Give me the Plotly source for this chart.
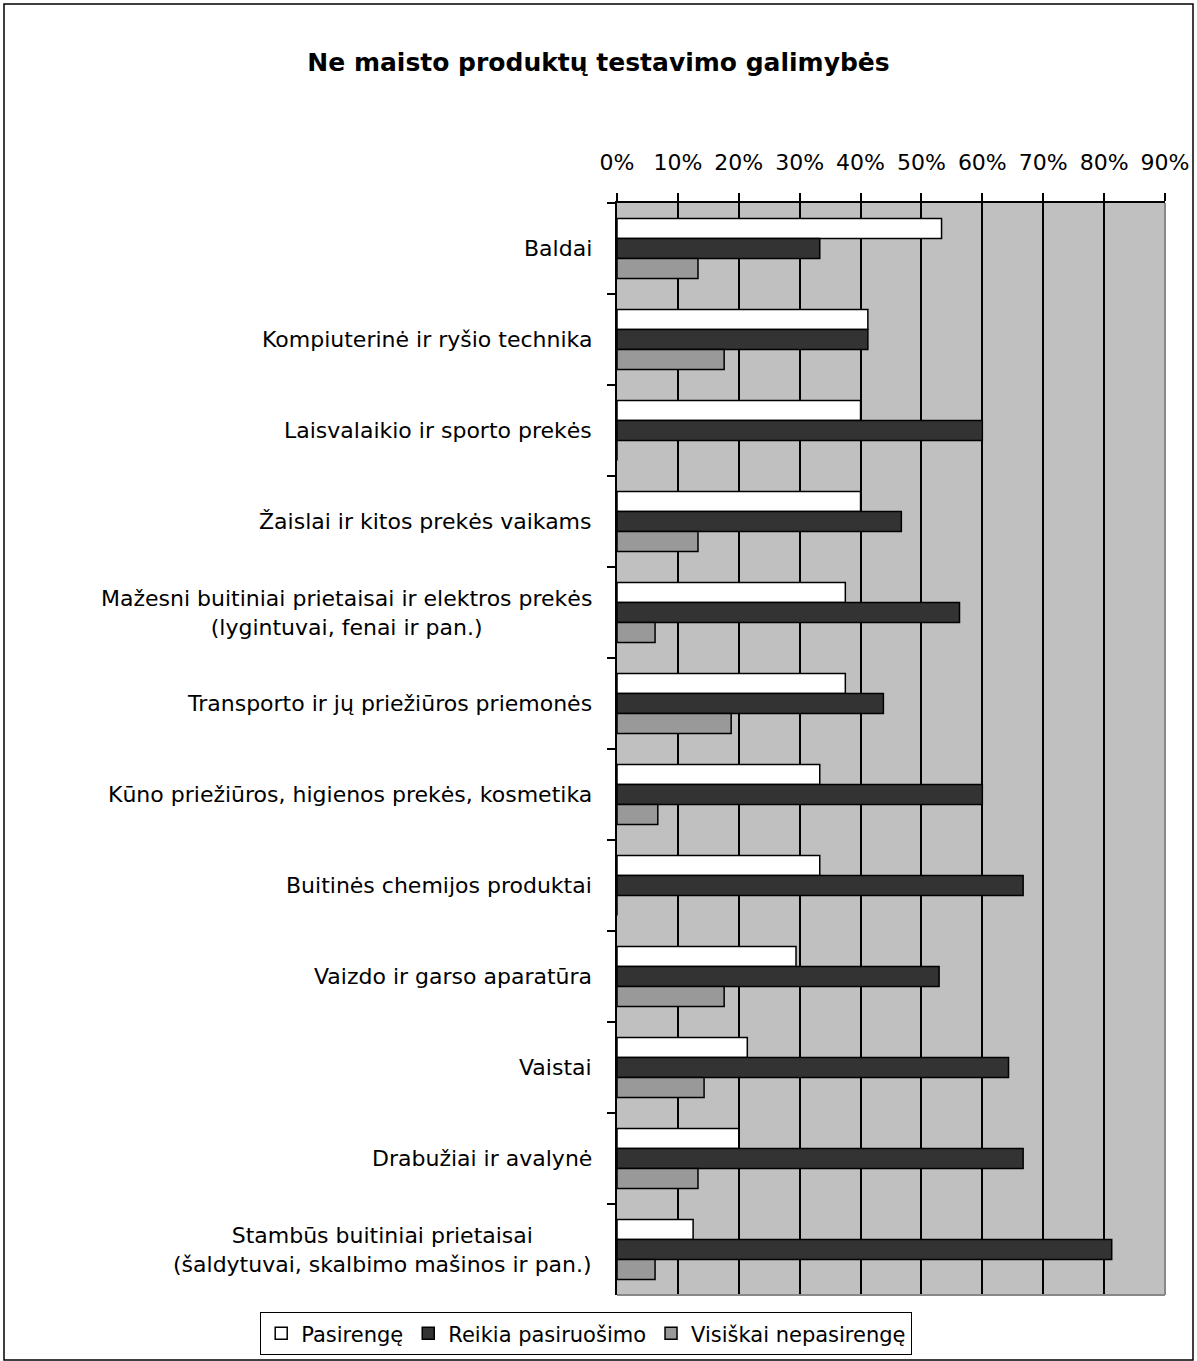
import plotly.graph_objects as go

categories = [
    "Baldai",
    "Kompiuterinė ir ryšio technika",
    "Laisvalaikio ir sporto prekės",
    "Žaislai ir kitos prekės vaikams",
    "Mažesni buitiniai prietaisai ir elektros prekės<br>(lygintuvai, fenai ir pan.)",
    "Transporto ir jų priežiūros priemonės",
    "Kūno priežiūros, higienos prekės, kosmetika",
    "Buitinės chemijos produktai",
    "Vaizdo ir garso aparatūra",
    "Vaistai",
    "Drabužiai ir avalynė",
    "Stambūs buitiniai prietaisai<br>(šaldytuvai, skalbimo mašinos ir pan.)",
]

pasirenge = [53.3, 41.2, 40.0, 40.0, 37.5, 37.5, 33.3, 33.3, 29.4, 21.4, 20.0, 12.5]
reikia = [33.3, 41.2, 60.0, 46.7, 56.25, 43.75, 60.0, 66.7, 52.9, 64.3, 66.7, 81.25]
visiskai = [13.3, 17.6, 0.0, 13.3, 6.25, 18.75, 6.7, 0.0, 17.6, 14.3, 13.3, 6.25]

series_names = ["Pasirengę", "Reikia pasiruošimo", "Visiškai nepasirengę"]
series_values = [pasirenge, reikia, visiskai]
series_colors = ["#FFFFFF", "#333333", "#999999"]

tick_vals = [0, 10, 20, 30, 40, 50, 60, 70, 80, 90]
tick_text = [f"{v}%" for v in tick_vals]

W, H = 1197, 1361
L, R, T, B = 617, 32, 203, 66
pw, ph = W - L - R, H - T - B

FONT = "DejaVu Sans, Liberation Sans, Arial, sans-serif"


def px_x(px):
    return (px - L) / pw


def px_y(py):
    return (H - B - py) / ph


fig = go.Figure()
for name, vals, col in zip(series_names, series_values, series_colors):
    fig.add_trace(go.Bar(
        y=categories, x=vals, name=name, orientation="h",
        marker=dict(color=col, line=dict(color="black", width=1.5)),
    ))

# category labels (centered multi-line blocks, right-aligned to the axis)
for cat in categories:
    fig.add_annotation(
        x=px_x(594), xref="paper", xanchor="right",
        y=cat, yref="y", yanchor="middle",
        text=cat, showarrow=False, align="center",
        font=dict(family=FONT, size=22, color="black"),
    )

fig.update_layout(
    width=W, height=H,
    margin=dict(l=L, r=R, t=T, b=B, autoexpand=False),
    paper_bgcolor="white",
    plot_bgcolor="#C0C0C0",
    barmode="group",
    bargap=0.34,
    bargroupgap=0,
    font=dict(family=FONT, size=22, color="black"),
    title=dict(
        text="<b>Ne maisto produktų testavimo galimybės</b>",
        x=0.5, xref="container", xanchor="center",
        y=1 - 62 / H, yref="container", yanchor="middle",
        font=dict(family=FONT, size=25, color="black"),
    ),
    xaxis=dict(
        side="top", range=[0, 90], tickvals=tick_vals, ticktext=tick_text,
        showgrid=True, gridcolor="black", gridwidth=1.5,
        showline=True, linecolor="black", linewidth=1.5,
        ticks="outside", ticklen=8, tickwidth=1.5, tickcolor="black",
        ticklabelstandoff=14, zeroline=False,
        tickfont=dict(family=FONT, size=22),
    ),
    yaxis=dict(
        autorange="reversed", type="category",
        showline=True, linecolor="black", linewidth=1.5,
        ticks="outside", ticklen=8, tickwidth=1.5, tickcolor="black",
        tickson="boundaries", showticklabels=False,
        showgrid=False,
    ),
    legend=dict(
        orientation="h",
        x=px_x(260), xanchor="left",
        y=px_y(1312), yanchor="top",
        bgcolor="white", bordercolor="black", borderwidth=1.2,
        font=dict(family=FONT, size=21),
        itemwidth=30, traceorder="normal",
    ),
    showlegend=True,
)

# plot area right and bottom edge (gray), outer chart border
fig.add_shape(type="line", xref="paper", yref="paper", x0=1, x1=1, y0=0, y1=1,
              line=dict(color="#888888", width=2))
fig.add_shape(type="line", xref="paper", yref="paper", x0=0, x1=1, y0=0, y1=0,
              line=dict(color="#888888", width=2))
fig.add_shape(type="rect", xref="paper", yref="paper",
              x0=px_x(4), x1=px_x(1193), y0=px_y(1360), y1=px_y(4),
              line=dict(color="black", width=1.5), fillcolor="rgba(0,0,0,0)")

fig.write_html(
    "out.html",
    config={"displayModeBar": False},
    post_script="document.body.style.margin='0';document.body.style.overflow='hidden';",
)
